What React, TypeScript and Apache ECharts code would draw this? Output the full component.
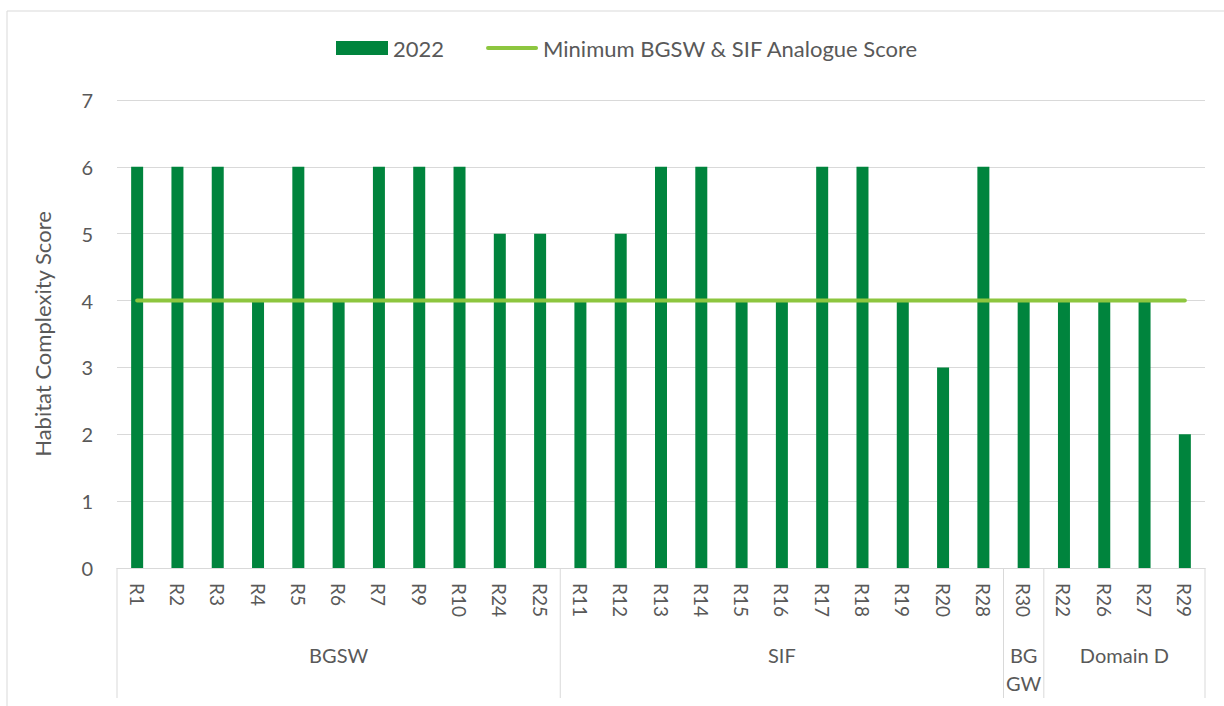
import React, { useEffect, useRef } from "react";
import * as echarts from "echarts";

const categories = [
  "R1", "R2", "R3", "R4", "R5", "R6", "R7", "R9", "R10", "R24", "R25",
  "R11", "R12", "R13", "R14", "R15", "R16", "R17", "R18", "R19", "R20", "R28",
  "R30",
  "R22", "R26", "R27", "R29",
];
const scores2022 = [
  6, 6, 6, 4, 6, 4, 6, 6, 6, 5, 5,
  4, 5, 6, 6, 4, 4, 6, 6, 4, 3, 6,
  4,
  4, 4, 4, 2,
];
const minimumScore = [
  4, 4, 4, 4, 4, 4, 4, 4, 4, 4, 4,
  4, 4, 4, 4, 4, 4, 4, 4, 4, 4, 4,
  4,
  4, 4, 4, 4,
];
const groupNames = ["BGSW", "SIF", "BG\nGW", "Domain D"];
const groupSizes = [11, 11, 1, 4];
const yTicks = [0, 1, 2, 3, 4, 5, 6, 7];

const FONT = "Lato, 'Open Sans', sans-serif";
const TEXT = "#595959";
const GRID = "#d9d9d9";
const BAR = "#00843D";
const LINE = "#8DC63F";

export default function App() {
  const ref = useRef<HTMLDivElement>(null);
  useEffect(() => {
    document.body.style.margin = "0";
    if (!ref.current) return;
    const chart = echarts.init(ref.current, null, { renderer: "svg" });
    chart.setOption({
      animation: false,
      backgroundColor: "#ffffff",
      textStyle: { fontFamily: FONT },
      legend: {
        left: 336,
        top: 37,
        padding: 0,
        itemWidth: 52,
        itemHeight: 14,
        itemGap: 42,
        symbolKeepAspect: true,
        textStyle: { fontFamily: FONT, fontSize: 22, color: TEXT },
        data: [
          { name: "2022", icon: "rect", itemStyle: { color: BAR } },
          {
            name: "Minimum BGSW & SIF Analogue Score",
            icon: "path://M2,0 L52,0 A2,2 0 0 1 52,4 L2,4 A2,2 0 0 1 2,0 Z",
            itemStyle: { color: LINE, borderWidth: 0 },
          },
        ],
      },
      grid: { left: 117, right: 19, top: 100, bottom: 138, containLabel: false },
      xAxis: {
        type: "category",
        data: categories,
        axisLine: { show: true, lineStyle: { color: GRID, width: 1 } },
        axisTick: { show: false },
        axisLabel: {
          rotate: -90,
          margin: 15,
          fontSize: 19,
          color: TEXT,
          fontFamily: FONT,
          interval: 0,
        },
        splitLine: { show: false },
      },
      yAxis: {
        type: "value",
        min: yTicks[0],
        max: yTicks[yTicks.length - 1],
        interval: 1,
        name: "Habitat Complexity Score",
        nameLocation: "middle",
        nameGap: 64,
        nameRotate: 90,
        nameTextStyle: { fontSize: 22, color: TEXT, fontFamily: FONT },
        axisLine: { show: false },
        axisTick: { show: false },
        axisLabel: { fontSize: 20, color: TEXT, margin: 24, fontFamily: FONT },
        splitLine: { lineStyle: { color: GRID, width: 1 } },
      },
      series: [
        {
          name: "2022",
          type: "bar",
          data: scores2022,
          barWidth: 12,
          itemStyle: { color: BAR },
          z: 2,
        },
        {
          name: "Minimum BGSW & SIF Analogue Score",
          type: "line",
          data: minimumScore,
          symbol: "none",
          showSymbol: false,
          lineStyle: { color: LINE, width: 4, cap: "round" },
          itemStyle: { color: LINE },
          z: 3,
        },
      ],
    });

    const x0 = chart.convertToPixel({ xAxisIndex: 0 }, 0) as number;
    const x1 = chart.convertToPixel({ xAxisIndex: 0 }, 1) as number;
    const bw = x1 - x0;
    const axisY = chart.convertToPixel({ yAxisIndex: 0 }, 0) as number;
    const elements: any[] = [];
    let start = 0;
    const boundaryX = (i: number) => x0 + (i - 0.5) * bw;
    elements.push({
      type: "line",
      shape: { x1: boundaryX(0), y1: axisY, x2: boundaryX(0), y2: axisY + 130 },
      style: { stroke: GRID, lineWidth: 1 },
    });
    groupSizes.forEach((n, gi) => {
      const end = start + n;
      const bx = boundaryX(end);
      elements.push({
        type: "line",
        shape: { x1: bx, y1: axisY, x2: bx, y2: axisY + 130 },
        style: { stroke: GRID, lineWidth: 1 },
      });
      const cx = (boundaryX(start) + bx) / 2;
      elements.push({
        type: "text",
        x: cx,
        y: axisY + 73,
        style: {
          text: groupNames[gi],
          fill: TEXT,
          fontSize: 20,
          fontFamily: FONT,
          textAlign: "center",
          textVerticalAlign: "top",
          lineHeight: 28,
        },
      });
      start = end;
    });
    // chart area border (left and top visible)
    elements.push({
      type: "polyline",
      shape: { points: [[7, 720], [7, 11], [1240, 11]] },
      style: { stroke: GRID, lineWidth: 1, fill: "none" },
      silent: true,
    });
    chart.setOption({ graphic: elements });

    return () => chart.dispose();
  }, []);
  return <div ref={ref} style={{ width: 1224, height: 706 }} />;
}
